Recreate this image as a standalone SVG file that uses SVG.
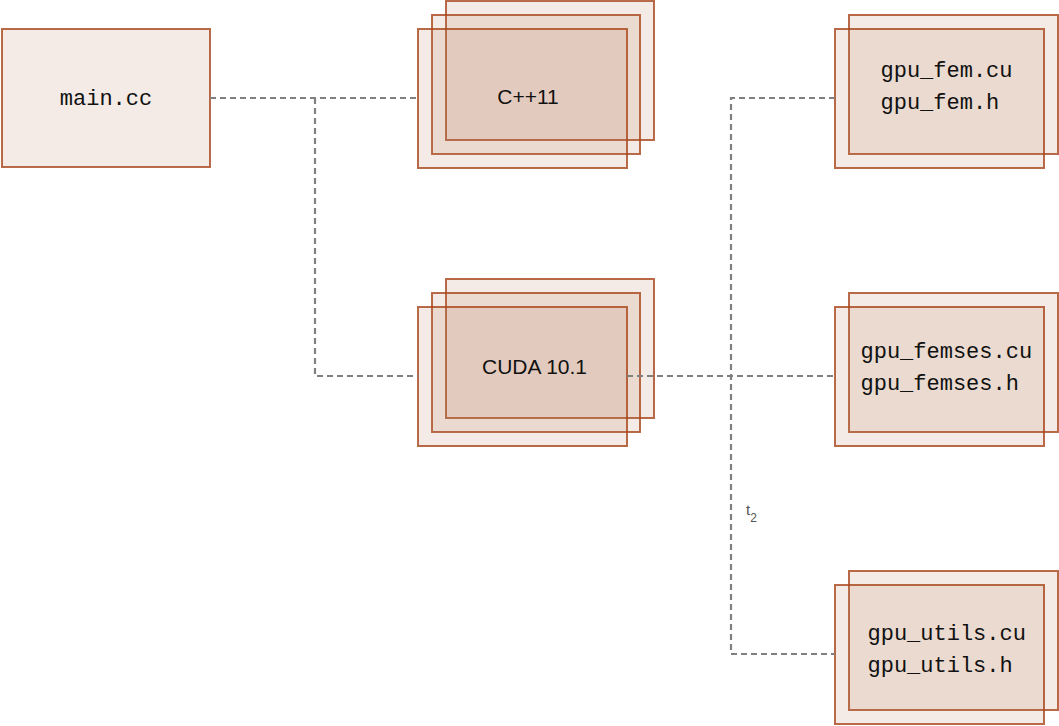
<svg xmlns="http://www.w3.org/2000/svg" width="1059" height="726" viewBox="0 0 1059 726">
<style>
.box{fill:#b67a58;fill-opacity:0.15;stroke:#a9461c;stroke-opacity:0.8;stroke-width:2}
.mono{font-family:"Liberation Mono","DejaVu Sans Mono",monospace;font-size:22px;fill:#111}
.sans{font-family:"Liberation Sans",Arial,sans-serif;font-size:21px;fill:#111}
.edge{fill:none;stroke:#808080;stroke-width:2.2;stroke-dasharray:6 4}
.lbl{font-family:"Liberation Sans",Arial,sans-serif;fill:#555}
</style>
<rect width="1059" height="726" fill="#fff"/>
<g id="main">
<rect class="box" x="2" y="29" width="208" height="138"/>
<text class="mono" x="106" y="105" text-anchor="middle">main.cc</text>
</g>
<g id="cpp11">
<rect class="box" x="446" y="1" width="208" height="139"/>
<rect class="box" x="432" y="15" width="208" height="139"/>
<rect class="box" x="418" y="29" width="209" height="139"/>
<text class="sans" x="528" y="104" text-anchor="middle">C++11</text>
</g>
<g id="cuda">
<rect class="box" x="446" y="279" width="208" height="139"/>
<rect class="box" x="432" y="293" width="208" height="139"/>
<rect class="box" x="418" y="307" width="209" height="139"/>
<text class="sans" x="534.5" y="374" text-anchor="middle">CUDA 10.1</text>
</g>
<g id="gpu_fem">
<rect class="box" x="849" y="15" width="209" height="139"/>
<rect class="box" x="835" y="29" width="209" height="139"/>
<text class="mono" x="880.5" y="77">gpu_fem.cu</text>
<text class="mono" x="880.5" y="109">gpu_fem.h</text>
</g>
<g id="gpu_femses">
<rect class="box" x="849" y="293" width="209" height="139"/>
<rect class="box" x="835" y="307" width="209" height="139"/>
<text class="mono" x="860.5" y="358">gpu_femses.cu</text>
<text class="mono" x="860.5" y="390">gpu_femses.h</text>
</g>
<g id="gpu_utils">
<rect class="box" x="849" y="571" width="209" height="139"/>
<rect class="box" x="835" y="585" width="209" height="139"/>
<text class="mono" x="867.5" y="640">gpu_utils.cu</text>
<text class="mono" x="867.5" y="672">gpu_utils.h</text>
</g>
<g id="connectors">
<path class="edge" d="M210 98 H418"/>
<path class="edge" d="M315 98 V376 H418"/>
<path class="edge" d="M627 376 H835"/>
<path class="edge" d="M835 98 H731 V654 H835"/>
<text class="lbl" x="746" y="515" font-size="15">t<tspan font-size="12" dy="7">2</tspan></text>
</g>
</svg>
